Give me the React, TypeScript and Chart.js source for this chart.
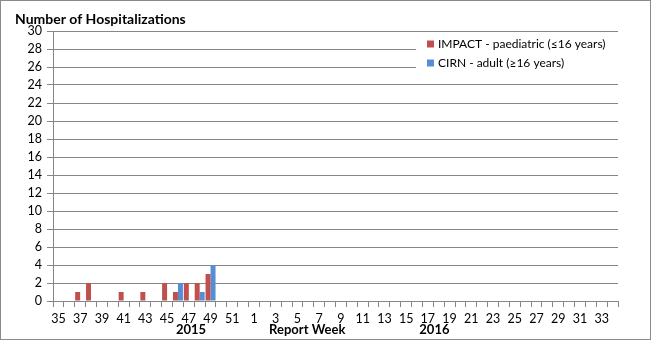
import React, { useEffect, useRef } from "react";
import { Chart, registerables } from "chart.js";

Chart.register(...registerables);

const weeks: string[] = [
  "35", "36", "37", "38", "39", "40", "41", "42", "43", "44", "45", "46", "47", "48", "49", "50", "51", "52",
  "1", "2", "3", "4", "5", "6", "7", "8", "9", "10", "11", "12", "13", "14", "15", "16", "17", "18", "19", "20",
  "21", "22", "23", "24", "25", "26", "27", "28", "29", "30", "31", "32", "33", "34",
];

const paediatric: number[] = [
  0, 0, 1, 2, 0, 0, 1, 0, 1, 0, 2, 1, 2, 2, 3, 0, 0, 0,
  0, 0, 0, 0, 0, 0, 0, 0, 0, 0, 0, 0, 0, 0, 0, 0, 0, 0, 0, 0,
  0, 0, 0, 0, 0, 0, 0, 0, 0, 0, 0, 0, 0, 0,
];

const adult: number[] = [
  0, 0, 0, 0, 0, 0, 0, 0, 0, 0, 0, 2, 0, 1, 4, 0, 0, 0,
  0, 0, 0, 0, 0, 0, 0, 0, 0, 0, 0, 0, 0, 0, 0, 0, 0, 0, 0, 0,
  0, 0, 0, 0, 0, 0, 0, 0, 0, 0, 0, 0, 0, 0,
];

const seriesLabels = ["IMPACT - paediatric (\u226416 years)", "CIRN - adult (\u226516 years)"];
const seriesColors = ["#C0504D", "#558ED5"];
const yTicks = { min: 0, max: 30, step: 2 };
const chartTitle = "Number of Hospitalizations";
const xTitle = "Report Week";
const yearLabels = [
  { text: "2015", at: 12.2 },
  { text: "2016", at: 34.6 },
];

const FONT = "Lato, 'DejaVu Sans', sans-serif";
const GRID = "#868686";

const decorPlugin = {
  id: "decor",
  afterDraw(chart: any) {
    const { ctx, chartArea, scales } = chart;
    const x = scales.x;
    ctx.save();
    // title
    ctx.fillStyle = "#000";
    ctx.font = `bold 14px ${FONT}`;
    ctx.textAlign = "left";
    ctx.textBaseline = "alphabetic";
    ctx.fillText(chartTitle, 15, 24);
    // bottom labels
    ctx.font = `bold 13px ${FONT}`;
    ctx.textAlign = "center";
    ctx.textBaseline = "middle";
    for (const yl of yearLabels) {
      const i0 = Math.floor(yl.at);
      const f = yl.at - i0;
      const p0 = x.getPixelForValue(i0);
      const p1 = x.getPixelForValue(i0 + 1);
      ctx.fillText(yl.text, p0 + (p1 - p0) * f, 330);
    }
    {
      const at = 22.9;
      const i0 = Math.floor(at);
      const p0 = x.getPixelForValue(i0);
      const p1 = x.getPixelForValue(i0 + 1);
      ctx.fillText(xTitle, p0 + (p1 - p0) * (at - i0), 330);
    }
    // legend
    const lx = 416;
    const ly = chartArea.top + 1;
    ctx.fillStyle = "#fff";
    ctx.fillRect(lx, ly, chartArea.right - lx, 42);
    ctx.font = `12px ${FONT}`;
    ctx.textAlign = "left";
    chart.data.datasets.forEach((ds: any, i: number) => {
      const cy = ly + 12 + i * 19;
      ctx.fillStyle = ds.backgroundColor;
      ctx.fillRect(427, cy - 3.5, 7, 7);
      ctx.fillStyle = "#000";
      ctx.fillText(ds.label, 438, cy);
    });
    ctx.restore();
  },
};

export default function App() {
  const ref = useRef<HTMLCanvasElement>(null);
  useEffect(() => {
    document.body.style.margin = "0";
    const chart = new Chart(ref.current!, {
      type: "bar",
      data: {
        labels: weeks,
        datasets: [
          { label: seriesLabels[0], data: paediatric, backgroundColor: seriesColors[0] },
          { label: seriesLabels[1], data: adult, backgroundColor: seriesColors[1] },
        ],
      },
      options: {
        animation: false,
        responsive: false,
        events: [],
        layout: { padding: { top: 31, right: 34, left: 0, bottom: 0 } },
        plugins: { legend: { display: false }, title: { display: false }, tooltip: { enabled: false } },
        datasets: { bar: { categoryPercentage: 0.92, barPercentage: 1.0 } },
        scales: {
          x: {
            grid: { display: true, drawOnChartArea: false, color: GRID, tickLength: 6, offset: true },
            border: { color: GRID, width: 1 },
            ticks: {
              autoSkip: false,
              maxRotation: 0,
              minRotation: 0,
              padding: 4,
              color: "#000",
              font: { family: FONT, size: 12.5 },
              callback: (_v: any, i: number) => (i % 2 === 0 ? weeks[i] : ""),
            },
            afterFit: (s: any) => { s.height = 40; },
          },
          y: {
            min: yTicks.min,
            max: yTicks.max,
            grid: { color: GRID, tickLength: 6 },
            border: { color: GRID, width: 1 },
            ticks: {
              stepSize: yTicks.step,
              padding: 5,
              color: "#000",
              font: { family: FONT, size: 12.5 },
            },
            afterFit: (s: any) => { s.width = 53; },
          },
        },
      },
      plugins: [decorPlugin],
    });
    return () => chart.destroy();
  }, []);
  return (
    <div style={{ position: "relative", width: 652, height: 341 }}>
      <canvas ref={ref} width={652} height={341} style={{ display: "block" }} />
      <div
        style={{
          position: "absolute",
          left: 0,
          top: 0,
          width: 651,
          height: 340,
          boxSizing: "border-box",
          border: "1.5px solid #8a8a8a",
          pointerEvents: "none",
        }}
      />
    </div>
  );
}
